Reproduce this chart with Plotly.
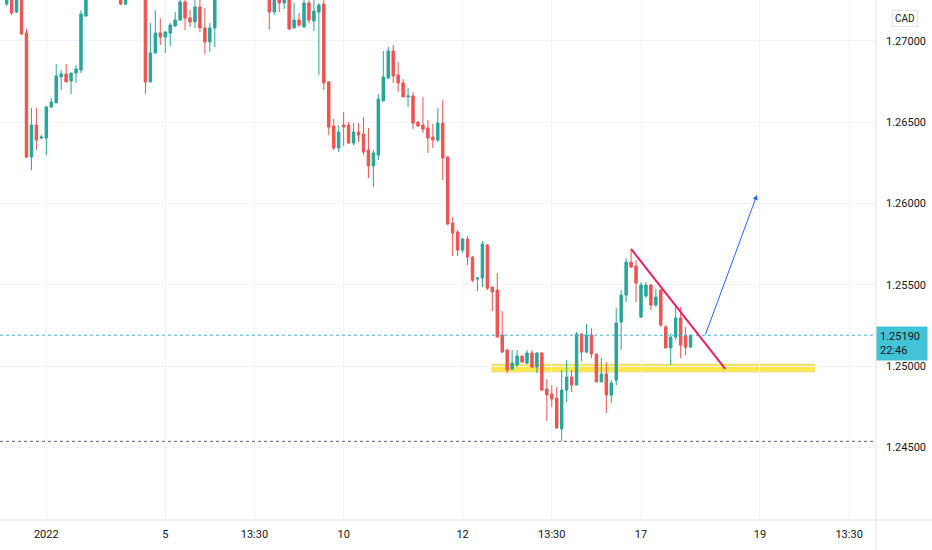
#!/usr/bin/env python3
# -*- coding:utf-8 -*-

'''
2小时K线图 (CAD) 还原
'''

import plotly;

# K线数据 (开, 高, 低, 收), 按时间顺序
opens = [
    1.27227, 1.27344, 1.27178, 1.27301, 1.27049, 1.26286, 1.26483, 1.26403, 1.26403, 1.26594,
    1.26619, 1.26779, 1.26797, 1.26754, 1.26803, 1.26821, 1.27154, 1.27375, 1.27450, 1.27410,
    1.27480, 1.27440, 1.27390, 1.27320, 1.27227, 1.27300, 1.27360, 1.27330, 1.27290, 1.26748,
    1.26926, 1.27049, 1.27024, 1.27049, 1.27092, 1.27129, 1.27240, 1.27141, 1.27117, 1.27209,
    1.27080, 1.26994, 1.27080, 1.27344, 1.27420, 1.27500, 1.27460, 1.27530, 1.27580, 1.27520,
    1.27470, 1.27510, 1.27440, 1.27380, 1.27178, 1.27301, 1.27234, 1.27289, 1.27080, 1.27129,
    1.27086, 1.27234, 1.27123, 1.27178, 1.27227, 1.26748, 1.26477, 1.26342, 1.26483, 1.26483,
    1.26372, 1.26440, 1.26428, 1.26329, 1.26231, 1.26298, 1.26631, 1.26772, 1.26938, 1.26791,
    1.26742, 1.26656, 1.26662, 1.26501, 1.26483, 1.26465, 1.26409, 1.26391, 1.26495, 1.26286,
    1.25880, 1.25825, 1.25714, 1.25782, 1.25671, 1.25536, 1.25542, 1.25745, 1.25487, 1.25468,
    1.25191, 1.25099, 1.24982, 1.25007, 1.25062, 1.25019, 1.25081, 1.24995, 1.25081, 1.24859,
    1.24829, 1.24804, 1.24614, 1.24853, 1.24933, 1.24884, 1.25197, 1.25087, 1.25191, 1.25075,
    1.24903, 1.24952, 1.24823, 1.24914, 1.25271, 1.25437, 1.25640, 1.25616, 1.25302, 1.25432,
    1.25499, 1.25376, 1.25468, 1.25241, 1.25112, 1.25179, 1.25296, 1.25191, 1.25117,
]
highs = [
    1.27437, 1.27406, 1.27363, 1.27338, 1.27074, 1.26588, 1.26588, 1.26421, 1.26600, 1.26649,
    1.26858, 1.26821, 1.26858, 1.26803, 1.26852, 1.27190, 1.27424, 1.27490, 1.27520, 1.27530,
    1.27510, 1.27470, 1.27420, 1.27350, 1.27340, 1.27400, 1.27420, 1.27380, 1.27320, 1.27110,
    1.27190, 1.27141, 1.27061, 1.27110, 1.27178, 1.27301, 1.27283, 1.27190, 1.27270, 1.27270,
    1.27203, 1.27110, 1.27375, 1.27460, 1.27540, 1.27560, 1.27580, 1.27620, 1.27610, 1.27550,
    1.27560, 1.27540, 1.27470, 1.27420, 1.27326, 1.27338, 1.27314, 1.27314, 1.27234, 1.27172,
    1.27264, 1.27252, 1.27264, 1.27234, 1.27264, 1.26754, 1.26520, 1.26483, 1.26563, 1.26501,
    1.26495, 1.26495, 1.26532, 1.26465, 1.26329, 1.26674, 1.26938, 1.26963, 1.26975, 1.26871,
    1.26766, 1.26711, 1.26686, 1.26507, 1.26655, 1.26514, 1.26489, 1.26588, 1.26637, 1.26290,
    1.25917, 1.25837, 1.25788, 1.25800, 1.25677, 1.25548, 1.25770, 1.25751, 1.25490, 1.25573,
    1.25339, 1.25106, 1.25099, 1.25099, 1.25068, 1.25099, 1.25099, 1.25087, 1.25087, 1.24921,
    1.24884, 1.24872, 1.24976, 1.25037, 1.24976, 1.25209, 1.25203, 1.25259, 1.25234, 1.25075,
    1.25050, 1.25025, 1.24915, 1.25357, 1.25468, 1.25665, 1.25714, 1.25652, 1.25517, 1.25517,
    1.25505, 1.25474, 1.25474, 1.25253, 1.25203, 1.25364, 1.25364, 1.25240, 1.25195,
]
lows = [
    1.27215, 1.27160, 1.27172, 1.27037, 1.26280, 1.26206, 1.26329, 1.26397, 1.26298, 1.26588,
    1.26619, 1.26698, 1.26748, 1.26674, 1.26742, 1.26803, 1.27147, 1.27330, 1.27380, 1.27390,
    1.27400, 1.27350, 1.27290, 1.27221, 1.27221, 1.27270, 1.27300, 1.27260, 1.26674, 1.26748,
    1.26926, 1.26975, 1.26926, 1.26969, 1.27086, 1.27123, 1.27067, 1.27086, 1.27080, 1.27055,
    1.26920, 1.26932, 1.26963, 1.27300, 1.27390, 1.27420, 1.27440, 1.27500, 1.27480, 1.27430,
    1.27440, 1.27400, 1.27330, 1.27067, 1.27160, 1.27178, 1.27197, 1.27067, 1.27080, 1.27086,
    1.27080, 1.27110, 1.27061, 1.26790, 1.26698, 1.26421, 1.26329, 1.26317, 1.26354, 1.26366,
    1.26360, 1.26378, 1.26298, 1.26157, 1.26102, 1.26268, 1.26631, 1.26766, 1.26742, 1.26686,
    1.26656, 1.26594, 1.26458, 1.26471, 1.26434, 1.26311, 1.26342, 1.26378, 1.26145, 1.25868,
    1.25677, 1.25677, 1.25696, 1.25622, 1.25517, 1.25462, 1.25487, 1.25468, 1.25339, 1.25179,
    1.25081, 1.24958, 1.24976, 1.24995, 1.25025, 1.25013, 1.24989, 1.24958, 1.24847, 1.24663,
    1.24749, 1.24614, 1.24538, 1.24779, 1.24841, 1.24884, 1.25031, 1.25081, 1.25050, 1.24903,
    1.24903, 1.24712, 1.24773, 1.24884, 1.25099, 1.25394, 1.25604, 1.25394, 1.25296, 1.25419,
    1.25345, 1.25364, 1.25241, 1.25112, 1.25007, 1.25160, 1.25050, 1.25068, 1.25117,
]
closes = [
    1.27375, 1.27172, 1.27314, 1.27043, 1.26286, 1.26483, 1.26391, 1.26409, 1.26594, 1.26625,
    1.26785, 1.26797, 1.26748, 1.26803, 1.26828, 1.27166, 1.27375, 1.27450, 1.27410, 1.27480,
    1.27440, 1.27390, 1.27320, 1.27227, 1.27300, 1.27360, 1.27330, 1.27290, 1.26748, 1.26926,
    1.27049, 1.27024, 1.27055, 1.27098, 1.27129, 1.27240, 1.27141, 1.27117, 1.27209, 1.27080,
    1.26994, 1.27080, 1.27344, 1.27420, 1.27500, 1.27460, 1.27530, 1.27580, 1.27520, 1.27470,
    1.27510, 1.27440, 1.27380, 1.27178, 1.27301, 1.27234, 1.27289, 1.27074, 1.27129, 1.27098,
    1.27234, 1.27129, 1.27184, 1.27221, 1.26742, 1.26471, 1.26342, 1.26440, 1.26471, 1.26372,
    1.26440, 1.26421, 1.26317, 1.26231, 1.26311, 1.26643, 1.26779, 1.26938, 1.26785, 1.26742,
    1.26656, 1.26662, 1.26495, 1.26477, 1.26458, 1.26403, 1.26391, 1.26495, 1.26280, 1.25874,
    1.25819, 1.25714, 1.25782, 1.25671, 1.25529, 1.25542, 1.25751, 1.25480, 1.25456, 1.25179,
    1.25087, 1.24976, 1.25019, 1.25062, 1.25025, 1.25081, 1.24995, 1.25081, 1.24853, 1.24823,
    1.24798, 1.24620, 1.24853, 1.24933, 1.24884, 1.25197, 1.25087, 1.25191, 1.25075, 1.24903,
    1.24952, 1.24823, 1.24896, 1.25265, 1.25437, 1.25640, 1.25610, 1.25511, 1.25499, 1.25499,
    1.25376, 1.25425, 1.25253, 1.25112, 1.25179, 1.25296, 1.25130, 1.25117, 1.25190,
]

# x轴刻度 (K线序号 -> 标签)
tick_index = [8, 32, 50, 68, 92, 110, 128, 152, 170];
tick_text = ["2022", "5", "13:30", "10", "12", "13:30", "17", "19", "13:30"];
# 价格刻度
price_ticks = [1.245, 1.250, 1.255, 1.260, 1.265, 1.270];

last_price = 1.25190;
last_time = "22:46";
low_price = 1.24538;
currency = "CAD";

# 手绘: 黄色支撑区, 粉色趋势线, 蓝色箭头
zone_x = [97.9, 163.1];
zone_y = [1.24964, 1.25013];
trend_x = [126.0, 145.0];
trend_y = [1.25721, 1.24983];
arrow_x = [140.9, 151.4];
arrow_y = [1.25186, 1.26053];

UP = "#26a69a";
DOWN = "#ef5350";
GRID = "#f0f3fa";
BORDER = "#e0e3eb";


def draw_candle_graph():
    # 准备K线数据
    trace = plotly.graph_objs.Candlestick(
        x=list(range(len(opens))),
        open=opens, high=highs, low=lows, close=closes,
        increasing=dict(line=dict(color=UP, width=1), fillcolor=UP),
        decreasing=dict(line=dict(color=DOWN, width=1), fillcolor=DOWN),
        whiskerwidth=0,
        hoverinfo="skip",
        showlegend=False,
    );

    shapes = [
        # 价格轴分隔线
        dict(type="line", xref="paper", yref="paper", x0=1, x1=1, y0=-30 / 520, y1=1,
             line=dict(color=BORDER, width=1)),
        # 时间轴分隔线
        dict(type="line", xref="paper", yref="paper", x0=0, x1=932 / 876, y0=0, y1=0,
             line=dict(color=BORDER, width=1)),
        # 最新价虚线
        dict(type="line", xref="paper", yref="y", x0=0, x1=1, y0=last_price, y1=last_price,
             line=dict(color="#3cb9d3", width=1, dash="dot")),
        # 最低价虚线
        dict(type="line", xref="paper", yref="y", x0=0, x1=1, y0=low_price, y1=low_price,
             line=dict(color="#5d606b", width=1, dash="dot")),
        # 黄色区域
        dict(type="rect", xref="x", yref="y", x0=zone_x[0], x1=zone_x[1], y0=zone_y[0], y1=zone_y[1],
             fillcolor="#ffe74a", line=dict(color="#e6dfa8", width=1), layer="below"),
        # 趋势线
        dict(type="line", xref="x", yref="y", x0=trend_x[0], x1=trend_x[1], y0=trend_y[0], y1=trend_y[1],
             line=dict(color="#e91e63", width=2)),
    ];

    annotations = [
        dict(x=arrow_x[1], y=arrow_y[1], ax=arrow_x[0], ay=arrow_y[0], xref="x", yref="y",
             axref="x", ayref="y", text="", showarrow=True, arrowhead=2, arrowsize=1,
             arrowwidth=1, arrowcolor="#2962ff"),
        # 最新价标签
        dict(x=1, y=last_price, xref="paper", yref="y", xanchor="left", yanchor="middle",
             yshift=-8, text="%.5f<br>%s" % (last_price, last_time), showarrow=False,
             align="left", bgcolor="#43c4d6", borderpad=3, width=44,
             font=dict(color="#131722", size=11)),
        # 货币标签
        dict(x=1, y=1, xref="paper", yref="paper", xanchor="center", yanchor="middle",
             xshift=29, yshift=-18, text=currency, showarrow=False,
             bordercolor=BORDER, borderwidth=1, borderpad=2,
             font=dict(color="#131722", size=10)),
    ];

    # 设置画布布局
    layout = plotly.graph_objs.Layout(
        width=932, height=550,
        margin=dict(l=0, r=56, t=0, b=30),
        paper_bgcolor="white", plot_bgcolor="white",
        font=dict(family="Roboto, Arial, sans-serif", size=11, color="#131722"),
        showlegend=False,
        xaxis=dict(range=[-1.342, 175.42], tickvals=tick_index, ticktext=tick_text,
                   showgrid=True, gridcolor=GRID, zeroline=False, showline=False,
                   ticks="", ticklabelstandoff=6, rangeslider=dict(visible=False)),
        yaxis=dict(side="right", range=[1.24054, 1.27252], tickvals=price_ticks,
                   tickformat=".5f", showgrid=True, gridcolor=GRID, zeroline=False,
                   showline=False, ticks="", ticklabelstandoff=9),
        shapes=shapes,
        annotations=annotations,
    );
    # 融合数据和布局
    figure = plotly.graph_objs.Figure(data=[trace], layout=layout);
    # 输出 (去掉页面默认边距)
    figure.write_html("out.html", config={"displayModeBar": False},
                      post_script="document.body.style.margin='0';");


if __name__ == "__main__":
    draw_candle_graph();
